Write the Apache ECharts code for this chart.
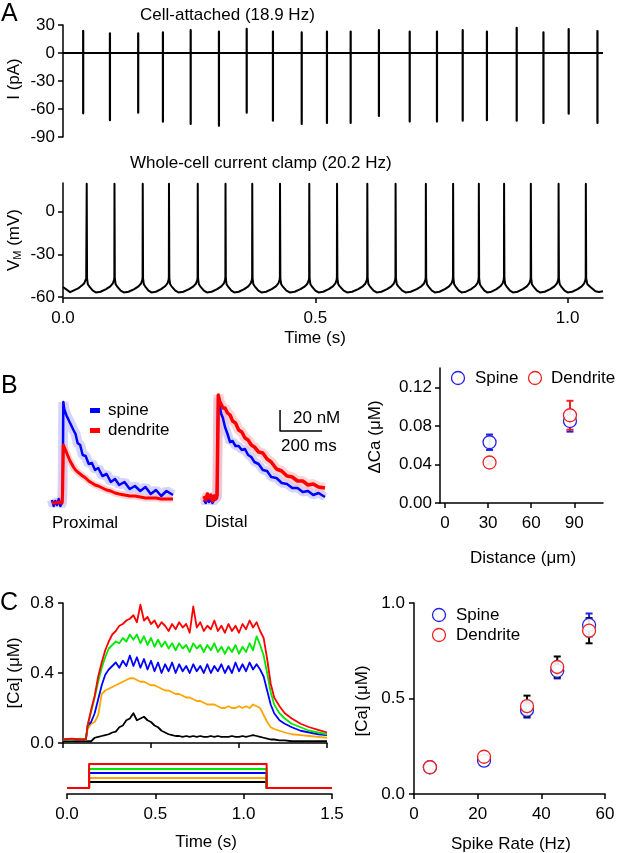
<!DOCTYPE html>
<html><head><meta charset="utf-8">
<script src="https://cdn.jsdelivr.net/npm/echarts@6/dist/echarts.min.js"></script>
<style>html,body{margin:0;padding:0;background:#fff}#c{width:620px;height:853px}</style>
</head><body><div id="c"></div>
<script>
// ================= DATA =================
// Panel A, cell-attached spikes (s, pA)
const caSpikeTimes = [0.040,0.093,0.149,0.198,0.253,0.309,0.364,0.416,0.473,0.523,0.570,0.626,0.687,0.741,0.792,0.840,0.899,0.952,1.002,1.059];
const caSpikePeaks = [23.6,21,21,22,24.6,23,26,23,22,23,23,24.5,23,23,24.5,23,27,22,25.7,23.5];
const caSpikeTroughs = [-64.6,-72,-64,-73.6,-76,-78,-64,-72.5,-76,-75,-75,-67.5,-73.5,-73.5,-72.5,-72,-72.5,-75,-65,-75];
const caRecordEnd = 1.07;

// Panel A, whole-cell spikes (s, mV)
const vmSpikeTimes = [0.047,0.102,0.158,0.210,0.267,0.322,0.375,0.430,0.488,0.543,0.603,0.659,0.719,0.773,0.824,0.874,0.927,0.982,1.036];
const vmSpikePeaks = [19.5,19.5,19.5,19.5,19.5,19.5,19.5,19.5,19.5,19.5,19.5,19.5,19.5,19.5,19.5,19.5,19.5,19.5,19.5];
// inter-spike trajectory: fraction of interval -> mV
const ahpPhase = [0.012, 0.04, 0.09, 0.14, 0.22, 0.33, 0.50, 0.70, 0.85, 0.94, 0.985, 0.995];
const ahpLevel = [-47, -51, -52.5, -53.5, -55.5, -56.8, -56.3, -54.5, -52.5, -50.5, -48, -46];
const vmPreTime = [0, 0.014, 0.030, 0.042, 0.046];
const vmPreLevel = [-53, -56.6, -54, -50.5, -47];
const vmPostTime = [1.0367, 1.039, 1.045, 1.055, 1.062, 1.07];
const vmPostLevel = [-47, -51, -53, -56, -56.5, -56];

// Panel B traces (ms, nM)
const proxTime = [0,8,16,24,32,40,48,51,54,58,64,70,78,86,94,102,112,122,134,146,160,175,190,205,220,240,260,280,300,320,345,370,395,420,445,470,495,520,545,576];
const proxSpine = [3,-3,2,-2,4,-3,1,20,101,94,93,87,87,80,80,73,69,60,58,48,47,39,40,33,35,27,29,21,24,18,21,14,17,12,16,9,13,7,12,8];
const proxDend = [0,1,0,-1,1,0,0,15,58,56,53,50,46,42,39,36,33,31,29,27,25,22,20,18,17,15,13,12,10,9,8,7,7,6,5,5,5,4,4,4];
const distTime = [0,8,16,24,32,40,48,56,62,65,68,74,82,90,100,112,124,136,150,165,180,195,210,225,240,260,280,300,320,345,370,395,420,445,470,495,520,545,576];
const distSpine = [-2,-5,0,-4,-1,-5,-2,-4,0,45,100,93,84,80,71,64,56,57,52,52,48,49,43,41,36,34,28,27,21,20,15,14,10,10,6,7,3,5,1];
const distDend = [2,-2,4,0,3,-3,2,-1,3,50,103,97,95,90,90,85,83,77,75,68,66,60,58,53,51,46,45,39,36,29,27,22,21,17,17,13,14,11,10];
const scaleBarTime = [362, 362, 562];
const scaleBarConc = [88, 67, 67];

// Panel B summary (um, uM)
const distance = [31, 87];
const bSpineMean = [0.063, 0.085];
const bSpineSem = [0.008, 0.011];
const bDendMean = [0.042, 0.091];
const bDendSem = [0.002, 0.015];

// Panel C traces (s, uM)
const cTime = [0,0.05,0.10,0.13,
  0.14,0.16,0.18,0.20,0.22,0.24,0.26,0.28,0.30,0.32,
  0.34,0.36,0.38,0.40,0.42,0.44,0.46,0.48,0.50,0.52,
  0.54,0.56,0.58,0.60,0.62,0.64,0.66,0.68,0.70,0.72,
  0.74,0.76,0.78,0.80,0.82,0.84,0.86,0.88,0.90,0.92,
  0.94,0.96,0.98,1.00,1.02,1.04,1.06,1.08,1.10,1.12,
  1.14,1.16,1.18,1.20,1.23,1.26,1.30,1.35,1.40,1.45,1.50];
const cRed = [0.02,0.025,0.02,0.02,
  0.10,0.19,0.27,0.38,0.46,0.53,0.58,0.62,0.64,0.67,
  0.68,0.70,0.71,0.73,0.69,0.79,0.70,0.72,0.68,0.70,
  0.66,0.69,0.67,0.64,0.68,0.65,0.69,0.66,0.68,0.63,
  0.78,0.66,0.69,0.64,0.67,0.65,0.70,0.64,0.67,0.63,
  0.68,0.64,0.67,0.63,0.68,0.65,0.70,0.66,0.69,0.64,
  0.60,0.48,0.34,0.26,0.21,0.17,0.14,0.11,0.09,0.075,0.06];
const cGreen = [0.02,0.02,0.025,0.02,
  0.10,0.18,0.26,0.35,0.43,0.49,0.54,0.56,0.58,0.57,
  0.60,0.58,0.62,0.59,0.62,0.57,0.61,0.56,0.60,0.55,
  0.59,0.55,0.58,0.54,0.57,0.53,0.57,0.54,0.56,0.52,
  0.57,0.54,0.56,0.52,0.56,0.53,0.57,0.52,0.55,0.51,
  0.55,0.52,0.56,0.51,0.55,0.52,0.57,0.53,0.61,0.56,
  0.50,0.40,0.29,0.22,0.17,0.14,0.11,0.09,0.07,0.06,0.05];
const cBlue = [0.02,0.02,0.02,0.02,
  0.10,0.12,0.17,0.25,0.33,0.39,0.42,0.44,0.46,0.43,
  0.47,0.44,0.50,0.44,0.49,0.43,0.48,0.42,0.47,0.41,
  0.46,0.40,0.45,0.41,0.46,0.40,0.45,0.41,0.44,0.40,
  0.45,0.41,0.44,0.40,0.45,0.40,0.44,0.41,0.45,0.40,
  0.44,0.40,0.46,0.41,0.45,0.41,0.46,0.42,0.45,0.42,
  0.38,0.30,0.22,0.17,0.13,0.11,0.09,0.07,0.06,0.05,0.045];
const cOrange = [0.02,0.02,0.02,0.02,
  0.08,0.11,0.12,0.16,0.28,0.30,0.31,0.32,0.33,0.34,
  0.35,0.36,0.37,0.37,0.36,0.35,0.35,0.34,0.33,0.33,
  0.32,0.31,0.30,0.30,0.29,0.28,0.28,0.27,0.26,0.26,
  0.25,0.24,0.24,0.23,0.22,0.22,0.22,0.21,0.20,0.20,
  0.21,0.20,0.20,0.21,0.20,0.21,0.20,0.22,0.21,0.20,
  0.16,0.12,0.09,0.08,0.07,0.06,0.05,0.045,0.04,0.035,0.03];
const cBlack = [0.01,0.01,0.01,0.01,
  0.01,0.01,0.03,0.035,0.04,0.045,0.05,0.06,0.065,0.09,
  0.10,0.13,0.14,0.17,0.13,0.14,0.15,0.13,0.12,0.10,
  0.09,0.07,0.06,0.05,0.045,0.04,0.04,0.035,0.04,0.035,
  0.04,0.035,0.04,0.035,0.035,0.04,0.035,0.04,0.035,0.035,
  0.035,0.04,0.035,0.035,0.04,0.035,0.04,0.045,0.04,0.035,
  0.03,0.025,0.02,0.02,0.015,0.015,0.01,0.01,0.01,0.01,0.01];
const stimOn = 0.125, stimOff = 1.13, stimEnd = 1.5;
const stimLevels = [6, 10, 15, 19, 24]; // black, orange, blue, green, red
const traceColors = ['#000000', '#ffa500', '#0000ff', '#00e800', '#ff0000'];

// Panel C summary (Hz, uM)
const spikeRate = [5, 22, 35.5, 45, 55];
const cSpineMean = [0.14, 0.175, 0.44, 0.645, 0.885];
const cSpineSem = [0.01, 0.01, 0.04, 0.04, 0.06];
const cDendMean = [0.14, 0.195, 0.46, 0.665, 0.855];
const cDendSem = [0.01, 0.01, 0.055, 0.055, 0.066];

// ================= BUILD =================
const FONT = 'Liberation Sans, Arial, Helvetica, sans-serif';
const FS = 17;
const BLUE = '#2222e8', RED = '#ee2222';

const caData = [[0, 0]];
caSpikeTimes.forEach((t, i) => { caData.push([t, 0], [t, caSpikePeaks[i]], [t, caSpikeTroughs[i]], [t, 0]); });
caData.push([caRecordEnd, 0]);

const vmData = vmPreTime.map((t, i) => [t, vmPreLevel[i]]);
vmSpikeTimes.forEach((t, i) => {
  vmData.push([t, vmSpikePeaks[i]]);
  if (i < vmSpikeTimes.length - 1) {
    const dt = vmSpikeTimes[i + 1] - t;
    ahpPhase.forEach((p, k) => vmData.push([t + p * dt, ahpLevel[k]]));
  }
});
vmPostTime.forEach((t, i) => vmData.push([t, vmPostLevel[i]]));

const zip = (xs, ys) => xs.map((x, i) => [x, ys[i]]);

function vAxis(o) {
  return {
    type: 'value', gridIndex: o.grid, min: o.min, max: o.max, offset: o.offset || 0,
    show: !o.hidden,
    axisLine: { show: true, onZero: false, lineStyle: { color: '#000', width: 1.5 } },
    axisTick: { show: !!o.ticks, inside: false, length: 5, lineStyle: { color: '#000', width: 1.5 }, customValues: o.ticks || [] },
    axisLabel: { show: !!o.labels, color: '#000', fontSize: FS, fontFamily: FONT, margin: o.margin || 8,
      customValues: o.labels || [], formatter: o.fmt || (v => String(v)) },
    splitLine: { show: false }
  };
}

const grids = [
  { left: 63, top: 25, width: 540, height: 112 },   // 0 A cell-attached
  { left: 63, top: 183, width: 540, height: 114 },  // 1 A whole-cell
  { left: 52, top: 380, width: 121, height: 128 },  // 2 B proximal
  { left: 204, top: 375, width: 121, height: 128 }, // 3 B distal
  { left: 440, top: 368, width: 163, height: 135 }, // 4 B summary
  { left: 63, top: 603, width: 264, height: 140 },  // 5 C traces
  { left: 67, top: 760, width: 265, height: 30 },   // 6 C stimulus
  { left: 414, top: 603, width: 191, height: 191 }  // 7 C summary
];

const xAxes = [
  vAxis({ grid: 0, min: 0, max: caRecordEnd, hidden: true }),
  vAxis({ grid: 1, min: 0, max: caRecordEnd, offset: 1, ticks: [0, 0.5, 1.0], labels: [0, 0.5, 1.0], fmt: v => v.toFixed(1), margin: 12 }),
  vAxis({ grid: 2, min: 0, max: 576, hidden: true }),
  vAxis({ grid: 3, min: 0, max: 576, hidden: true }),
  vAxis({ grid: 4, min: -3.5, max: 110, ticks: [0, 30, 60, 90], labels: [0, 30, 60, 90], margin: 12 }),
  vAxis({ grid: 5, min: 0, max: 1.5, ticks: [0, 0.5, 1.0, 1.5] }),
  vAxis({ grid: 6, min: 0, max: 1.5, offset: 4, ticks: [0, 0.5, 1.0, 1.5], labels: [0, 0.5, 1.0, 1.5], fmt: v => v.toFixed(1), margin: 12 }),
  vAxis({ grid: 7, min: 0, max: 60, ticks: [0, 20, 40, 60], labels: [0, 20, 40, 60], margin: 12 })
];
const yAxes = [
  vAxis({ grid: 0, min: -90, max: 30, ticks: [-90, -60, -30, 0, 30], labels: [-90, -60, -30, 0, 30], margin: 8 }),
  vAxis({ grid: 1, min: -60, max: 20, ticks: [-60, -30, 0], labels: [-60, -30, 0], margin: 8 }),
  vAxis({ grid: 2, min: -5, max: 123, hidden: true }),
  vAxis({ grid: 3, min: -5, max: 123, hidden: true }),
  vAxis({ grid: 4, min: 0, max: 0.14, ticks: [0, 0.04, 0.08, 0.12], labels: [0, 0.04, 0.08, 0.12], fmt: v => v.toFixed(2), margin: 8 }),
  vAxis({ grid: 5, min: 0, max: 0.8, ticks: [0, 0.4, 0.8], labels: [0, 0.4, 0.8], fmt: v => v.toFixed(1), margin: 9 }),
  vAxis({ grid: 6, min: -2, max: 28, hidden: true }),
  vAxis({ grid: 7, min: 0, max: 1.0, ticks: [0, 0.5, 1.0], labels: [0, 0.5, 1.0], fmt: v => v.toFixed(1), margin: 9 })
];

function line(gi, data, color, width, extra) {
  return Object.assign({ type: 'line', xAxisIndex: gi, yAxisIndex: gi, data: data, showSymbol: false, symbol: 'none',
    silent: true, animation: false, clip: false, lineStyle: { color: color, width: width, join: 'round' } }, extra || {});
}
function errBars(gi, xs, means, sems, color, z) {
  return { type: 'custom', xAxisIndex: gi, yAxisIndex: gi, z: z, silent: true, animation: false,
    data: xs.map((x, i) => [x, means[i] - sems[i], means[i] + sems[i]]),
    renderItem: (params, api) => {
      const lo = api.coord([api.value(0), api.value(1)]);
      const hi = api.coord([api.value(0), api.value(2)]);
      const w = 3.5, st = { stroke: color, lineWidth: 2 };
      return { type: 'group', children: [
        { type: 'line', shape: { x1: lo[0], y1: lo[1], x2: hi[0], y2: hi[1] }, style: st },
        { type: 'line', shape: { x1: lo[0] - w, y1: lo[1], x2: lo[0] + w, y2: lo[1] }, style: st },
        { type: 'line', shape: { x1: hi[0] - w, y1: hi[1], x2: hi[0] + w, y2: hi[1] }, style: st }
      ] };
    } };
}
function scatter(gi, xs, ys, color, z) {
  return { type: 'scatter', xAxisIndex: gi, yAxisIndex: gi, z: z, silent: true, animation: false,
    data: zip(xs, ys), symbol: 'circle', symbolSize: 13,
    itemStyle: { color: 'rgba(255,255,255,0.9)', borderColor: color, borderWidth: 1.3, opacity: 1 } };
}

const series = [];
series.push(line(0, caData, '#000', 2.2));
series.push(line(1, vmData, '#000', 2));
// B proximal
series.push(line(2, zip(proxTime, proxSpine), '#b8b8ff', 9, { lineStyle: { color: '#b8b8ff', width: 10, opacity: 0.6 } }));
series.push(line(2, zip(proxTime, proxDend), '#ffb8b8', 7, { lineStyle: { color: '#ffb8b8', width: 7, opacity: 0.6 } }));
series.push(line(2, zip(proxTime, proxSpine), '#0000ff', 2.5));
series.push(line(2, zip(proxTime, proxDend), '#ff0000', 3));
// B distal
series.push(line(3, zip(distTime, distSpine), '#b8b8ff', 9, { lineStyle: { color: '#b8b8ff', width: 9, opacity: 0.6 } }));
series.push(line(3, zip(distTime, distDend), '#ffb8b8', 9, { lineStyle: { color: '#ffb8b8', width: 10, opacity: 0.6 } }));
series.push(line(3, zip(distTime, distSpine), '#0000ff', 2.5));
series.push(line(3, zip(distTime, distDend), '#ff0000', 3.5));
series.push(line(3, zip(scaleBarTime, scaleBarConc), '#000', 1.5));
// B summary
series.push(errBars(4, distance, bSpineMean, bSpineSem, BLUE, 2));
series.push(errBars(4, distance, bDendMean, bDendSem, RED, 2));
series.push(scatter(4, distance, bSpineMean, BLUE, 3));
series.push(scatter(4, distance, bDendMean, RED, 4));
// C traces
[cBlack, cOrange, cBlue, cGreen, cRed].forEach((arr, k) => series.push(line(5, zip(cTime, arr), traceColors[k], 1.8)));
// C stimulus
stimLevels.forEach((lv, k) => series.push(line(6,
  [[0, 0], [stimOn, 0], [stimOn, lv], [stimOff, lv], [stimOff, 0], [stimEnd, 0]], traceColors[k], 2)));
// C summary
series.push(errBars(7, spikeRate, cSpineMean, cSpineSem, BLUE, 2));
series.push(errBars(7, spikeRate, cDendMean, cDendSem, '#000', 2));
series.push(scatter(7, spikeRate, cSpineMean, BLUE, 3));
series.push(scatter(7, spikeRate, cDendMean, RED, 4));

function txt(x, y, text, size, extra) {
  return Object.assign({ type: 'text', x: x, y: y, silent: true,
    style: { text: text, fill: '#000', fontSize: size || FS, fontFamily: FONT, align: 'left', verticalAlign: 'middle' } }, extra || {});
}
function ctxt(x, y, text, size) { const t = txt(x, y, text, size); t.style.align = 'center'; return t; }
function rtxt(x, y, text, size) { const t = txt(x, y, text, size, { rotation: Math.PI / 2 }); t.style.align = 'center'; return t; }

const graphic = [
  txt(1, 14, 'A', 25), txt(1, 386, 'B', 25), txt(0, 603, 'C', 25),
  txt(140, 15, 'Cell-attached (18.9 Hz)'),
  txt(130, 163, 'Whole-cell current clamp (20.2 Hz)'),
  rtxt(14, 79, 'I (pA)'),
  { type: 'text', x: 14, y: 240, rotation: Math.PI / 2, silent: true,
    style: { text: '{v|V}{m|M}{v| (mV)}', align: 'center', verticalAlign: 'middle',
      rich: { v: { fontSize: FS, fontFamily: FONT, fill: '#000', lineHeight: 19 },
              m: { fontSize: 11, fontFamily: FONT, fill: '#000', lineHeight: 19, padding: [8, 0, 0, 0] } } } },
  ctxt(315, 338, 'Time (s)'),
  // B legend and labels
  { type: 'rect', shape: { x: 90, y: 408, width: 10, height: 5 }, style: { fill: '#0000ff' }, silent: true },
  { type: 'rect', shape: { x: 90, y: 428, width: 10, height: 5 }, style: { fill: '#ff0000' }, silent: true },
  txt(108, 410, 'spine', 17), txt(108, 430, 'dendrite', 17),
  txt(52, 523, 'Proximal'), txt(205, 522, 'Distal'),
  txt(293, 418, '20 nM'), txt(281, 446, '200 ms'),
  rtxt(375, 437, 'ΔCa (μM)'),
  ctxt(523, 558, 'Distance (μm)'),
  { type: 'circle', shape: { cx: 458, cy: 378, r: 6.5 }, style: { fill: '#fff', stroke: BLUE, lineWidth: 1.3 }, silent: true },
  txt(475, 378, 'Spine'),
  { type: 'circle', shape: { cx: 535, cy: 378, r: 6.5 }, style: { fill: '#fff', stroke: RED, lineWidth: 1.3 }, silent: true },
  txt(551, 378, 'Dendrite'),
  // C labels
  rtxt(14, 673, '[Ca] (μM)'),
  ctxt(206, 842, 'Time (s)'),
  rtxt(362, 701, '[Ca] (μM)'),
  ctxt(511, 844, 'Spike Rate (Hz)'),
  { type: 'circle', shape: { cx: 439, cy: 615, r: 6.5 }, style: { fill: '#fff', stroke: BLUE, lineWidth: 1.3 }, silent: true },
  txt(456, 615, 'Spine'),
  { type: 'circle', shape: { cx: 439, cy: 635, r: 6.5 }, style: { fill: '#fff', stroke: RED, lineWidth: 1.3 }, silent: true },
  txt(456, 635, 'Dendrite')
];

const chart = echarts.init(document.getElementById('c'), null, { renderer: 'canvas', width: 620, height: 853 });
chart.setOption({
  backgroundColor: '#fff', animation: false,
  grid: grids, xAxis: xAxes, yAxis: yAxes, series: series, graphic: graphic
});
</script></body></html>
